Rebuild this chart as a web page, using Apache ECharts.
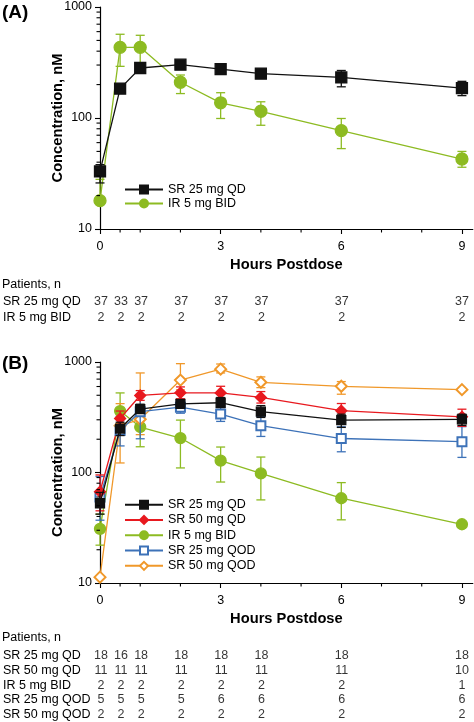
<!DOCTYPE html>
<html><head><meta charset="utf-8">
<script src="https://cdn.jsdelivr.net/npm/echarts@6/dist/echarts.min.js"></script>
<style>html,body{margin:0;padding:0;background:#fff}#c{width:474px;height:722px}</style>
</head><body><div id="c"></div>
<script>
// ---------- data ----------
const times = [0, 0.5, 1, 2, 3, 4, 6, 9];
const xTickLabels = [0, 3, 6, 9];
const xMinorTicks = [0.5, 1, 2, 4, 5, 7, 8];
const yTickLabels = [10, 100, 1000];
const yMinorTicks = [20,30,40,50,60,70,80,90,200,300,400,500,600,700,800,900];

// Panel A
const A_sr25qd = [33, 184, 282, 302, 276, 251, 232, 186];
const A_sr25qd_lo = [26, 171, 268, 286, 254, 228, 191, 159];
const A_sr25qd_hi = [38, 197, 297, 318, 298, 274, 268, 214];
const A_ir5bid = [18, 433, 433, 210, 137, 115, 77, 42.7];
const A_ir5bid_lo = [18, 292, 294, 166, 99, 86, 53, 36];
const A_ir5bid_hi = [28, 568, 556, 244, 169, 140, 99, 50];
const A_rows = ['SR 25 mg QD', 'IR 5 mg BID'];
const A_n_sr25qd = [37, 33, 37, 37, 37, 37, 37, 37];
const A_n_ir5bid = [2, 2, 2, 2, 2, 2, 2, 2];

// Panel B
const B_sr25qd = [52.7, 250, 375, 418, 428, 355, 298, 303];
const B_sr25qd_lo = [42, 216, 345, 385, 387, 315, 256, 267];
const B_sr25qd_hi = [66, 285, 415, 455, 477, 403, 337, 337];
const B_sr50qd = [67, 308, 498, 526, 525, 478, 363, 319];
const B_sr50qd_lo = [45, 262, 450, 465, 460, 425, 312, 262];
const B_sr50qd_hi = [95, 360, 551, 595, 603, 540, 421, 374];
const B_ir5bid = [30.9, 360, 258, 205, 128, 98, 58.5, 34];
const B_ir5bid_lo = [22, 245, 171, 110, 82, 56.5, 37.3, 34];
const B_ir5bid_hi = [42, 525, 380, 298, 170, 138, 81, 34];
const B_sr25qod = [60, 240, 355, 390, 338, 265, 203, 190];
const B_sr25qod_lo = [37, 174, 202, 344, 290, 212, 154, 137];
const B_sr25qod_hi = [92, 320, 500, 440, 390, 320, 259, 260];
const B_sr50qod = [11.3, 265, 303, 686, 862, 655, 603, 562];
const B_sr50qod_lo = [11.3, 122, 220, 560, 796, 586, 511, 562];
const B_sr50qod_hi = [11.3, 420, 796, 966, 959, 733, 665, 562];
const B_rows = ['SR 25 mg QD', 'SR 50 mg QD', 'IR 5 mg BID', 'SR 25 mg QOD', 'SR 50 mg QOD'];
const B_n_sr25qd = [18, 16, 18, 18, 18, 18, 18, 18];
const B_n_sr50qd = [11, 11, 11, 11, 11, 11, 11, 10];
const B_n_ir5bid = [2, 2, 2, 2, 2, 2, 2, 1];
const B_n_sr25qod = [5, 5, 5, 5, 6, 6, 6, 6];
const B_n_sr50qod = [2, 2, 2, 2, 2, 2, 2, 2];

// ---------- styles ----------
const FONT = 'Liberation Sans, Arial, sans-serif';
const C_BLACK = '#111111', C_RED = '#e8191f', C_GREEN = '#8dbb22', C_BLUE = '#3d72b8', C_ORANGE = '#f0982a';
const XMAX = 9.27;
const L = 100, W = 372.8;

const chart = echarts.init(document.getElementById('c'), null, {renderer: 'canvas'});

function pts(v) { return times.map((t, i) => [t, v[i]]); }
function errData(lo, hi) { return times.map((t, i) => [t, lo[i], hi[i]]).filter(d => d[2] > d[1]); }

function lineSeries(name, v, color, symbol, size, xi, yi, z) {
  return {
    type: 'line', name, data: pts(v), xAxisIndex: xi, yAxisIndex: yi,
    symbol, symbolSize: size, showAllSymbol: true, z: z,
    lineStyle: {color, width: 1.3}, itemStyle: {color, borderColor: color, borderWidth: 1.3},
    emphasis: {disabled: true}, animation: false
  };
}
function errSeries(lo, hi, color, xi, yi, z) {
  return {
    type: 'custom', xAxisIndex: xi, yAxisIndex: yi, z: z, animation: false, silent: true,
    encode: {x: 0, y: [1, 2]},
    data: errData(lo, hi),
    renderItem: function (params, api) {
      const x = api.value(0);
      const pl = api.coord([x, api.value(1)]);
      const ph = api.coord([x, api.value(2)]);
      const cw = 4.5;
      const st = {stroke: color, lineWidth: 1.3, fill: null};
      return {type: 'group', children: [
        {type: 'line', shape: {x1: pl[0], y1: pl[1], x2: ph[0], y2: ph[1]}, style: st},
        {type: 'line', shape: {x1: ph[0] - cw, y1: ph[1], x2: ph[0] + cw, y2: ph[1]}, style: st},
        {type: 'line', shape: {x1: pl[0] - cw, y1: pl[1], x2: pl[0] + cw, y2: pl[1]}, style: st}
      ]};
    }
  };
}
// minor tick marks on both axes, placed through the axes' own scales
function minorTickSeries(xi, yi) {
  const data = yMinorTicks.map(v => [0, v, 0]).concat(xMinorTicks.map(t => [t, 10, 1]));
  return {
    type: 'custom', xAxisIndex: xi, yAxisIndex: yi, z: 10, animation: false, silent: true, clip: false,
    encode: {x: 0, y: 1}, data,
    renderItem: function (params, api) {
      const p = api.coord([api.value(0), api.value(1)]);
      const st = {stroke: '#000', lineWidth: 1.1};
      if (api.value(2) === 0) {
        return {type: 'line', shape: {x1: p[0] - 3.5, y1: p[1], x2: p[0], y2: p[1]}, style: st};
      }
      return {type: 'line', shape: {x1: p[0], y1: p[1], x2: p[0], y2: p[1] + 3.5}, style: st};
    }
  };
}
function tableSeries(rowName, nArr, xi, yi) {
  return {
    type: 'scatter', xAxisIndex: xi, yAxisIndex: yi, symbolSize: 0, silent: true, animation: false,
    data: times.map((t, i) => [t, rowName, nArr[i]]),
    label: {show: true, position: 'inside', formatter: p => String(p.value[2]),
      color: '#000', fontFamily: FONT, fontSize: 12.5}
  };
}

function mainX(gi) {
  return {
    type: 'value', gridIndex: gi, min: 0, max: XMAX, position: 'bottom',
    axisLine: {show: true, onZero: false, lineStyle: {color: '#000', width: 1.2}},
    axisTick: {show: true, customValues: xTickLabels, length: 5, lineStyle: {color: '#000', width: 1.1}},
    axisLabel: {show: true, customValues: xTickLabels, margin: 11, color: '#000', fontFamily: FONT, fontSize: 12.5},
    splitLine: {show: false},
    name: 'Hours Postdose', nameLocation: 'middle', nameGap: 28, nameMoveOverlap: false,
    nameTextStyle: {color: '#000', fontFamily: FONT, fontSize: 14.7, fontWeight: 'bold'}
  };
}
function mainY(gi) {
  return {
    type: 'log', logBase: 10, gridIndex: gi, min: 10, max: 1000, position: 'left',
    axisLine: {show: true, lineStyle: {color: '#000', width: 1.2}},
    axisTick: {show: true, customValues: yTickLabels, length: 5, lineStyle: {color: '#000', width: 1.1}},
    axisLabel: {show: true, customValues: yTickLabels, formatter: v => String(v), margin: 8,
      color: '#000', fontFamily: FONT, fontSize: 12.5},
    splitLine: {show: false},
    name: 'Concentration, nM', nameLocation: 'middle', nameGap: 35, nameRotate: 90, nameMoveOverlap: false,
    nameTextStyle: {color: '#000', fontFamily: FONT, fontSize: 14.7, fontWeight: 'bold'}
  };
}
function tableX(gi) {
  return {type: 'value', gridIndex: gi, min: 0, max: XMAX, show: false};
}
function tableY(gi, rows) {
  return {
    type: 'category', gridIndex: gi, data: rows, inverse: true,
    axisLine: {show: false}, axisTick: {show: false}, splitLine: {show: false},
    axisLabel: {show: true, interval: 0, hideOverlap: false, align: 'left', margin: 98,
      color: '#000', fontFamily: FONT, fontSize: 12.5}
  };
}

const option = {
  backgroundColor: '#fff',
  animation: false,
  grid: [
    {left: L, width: W, top: 7, height: 222},
    {left: L, width: W, top: 362, height: 221},
    {left: L, width: W, top: 294, height: 31.4},
    {left: L, width: W, top: 648.4, height: 73.75}
  ],
  xAxis: [mainX(0), mainX(1), tableX(2), tableX(3)],
  yAxis: [mainY(0), mainY(1), tableY(2, A_rows), tableY(3, B_rows)],
  legend: [
    {orient: 'vertical', left: 124, top: 182.5, itemWidth: 38, itemHeight: 10, itemGap: 0, padding: 0,
     data: ['SR 25 mg QD A', 'IR 5 mg BID A'],
     formatter: n => n.slice(0, -2),
     textStyle: {color: '#000', fontFamily: FONT, fontSize: 12.5, lineHeight: 14}, selectedMode: false},
    {orient: 'vertical', left: 124, top: 497, itemWidth: 38, itemHeight: 10, itemGap: 0, padding: 0,
     data: ['SR 25 mg QD', 'SR 50 mg QD', 'IR 5 mg BID', 'SR 25 mg QOD', 'SR 50 mg QOD'],
     textStyle: {color: '#000', fontFamily: FONT, fontSize: 12.5, lineHeight: 15.3}, selectedMode: false}
  ],
  graphic: [
    {type: 'text', left: 2, top: 3, style: {text: '(A)', font: 'bold 19px ' + FONT, fill: '#000'}},
    {type: 'text', left: 2, top: 354, style: {text: '(B)', font: 'bold 19px ' + FONT, fill: '#000'}},
    {type: 'text', left: 2, top: 278.5, style: {text: 'Patients, n', font: '12.5px ' + FONT, fill: '#000'}},
    {type: 'text', left: 2, top: 631, style: {text: 'Patients, n', font: '12.5px ' + FONT, fill: '#000'}}
  ],
  series: [
    minorTickSeries(0, 0),
    minorTickSeries(1, 1),
    // Panel A
    errSeries(A_ir5bid_lo, A_ir5bid_hi, C_GREEN, 0, 0, 2),
    lineSeries('IR 5 mg BID A', A_ir5bid, C_GREEN, 'circle', 12, 0, 0, 3),
    errSeries(A_sr25qd_lo, A_sr25qd_hi, C_BLACK, 0, 0, 4),
    lineSeries('SR 25 mg QD A', A_sr25qd, C_BLACK, 'rect', 11, 0, 0, 5),
    // Panel B
    errSeries(B_ir5bid_lo, B_ir5bid_hi, C_GREEN, 1, 1, 2),
    lineSeries('IR 5 mg BID', B_ir5bid, C_GREEN, 'circle', 11, 1, 1, 3),
    errSeries(B_sr50qod_lo, B_sr50qod_hi, C_ORANGE, 1, 1, 2),
    lineSeries('SR 50 mg QOD', B_sr50qod, C_ORANGE, 'emptyDiamond', 11, 1, 1, 3),
    errSeries(B_sr25qod_lo, B_sr25qod_hi, C_BLUE, 1, 1, 4),
    lineSeries('SR 25 mg QOD', B_sr25qod, C_BLUE, 'emptyRect', 9, 1, 1, 5),
    errSeries(B_sr50qd_lo, B_sr50qd_hi, C_RED, 1, 1, 4),
    lineSeries('SR 50 mg QD', B_sr50qd, C_RED, 'diamond', 11, 1, 1, 5),
    errSeries(B_sr25qd_lo, B_sr25qd_hi, C_BLACK, 1, 1, 6),
    lineSeries('SR 25 mg QD', B_sr25qd, C_BLACK, 'rect', 9, 1, 1, 7),
    // Tables
    tableSeries(A_rows[0], A_n_sr25qd, 2, 2),
    tableSeries(A_rows[1], A_n_ir5bid, 2, 2),
    tableSeries(B_rows[0], B_n_sr25qd, 3, 3),
    tableSeries(B_rows[1], B_n_sr50qd, 3, 3),
    tableSeries(B_rows[2], B_n_ir5bid, 3, 3),
    tableSeries(B_rows[3], B_n_sr25qod, 3, 3),
    tableSeries(B_rows[4], B_n_sr50qod, 3, 3)
  ]
};
chart.setOption(option);
</script></body></html>
